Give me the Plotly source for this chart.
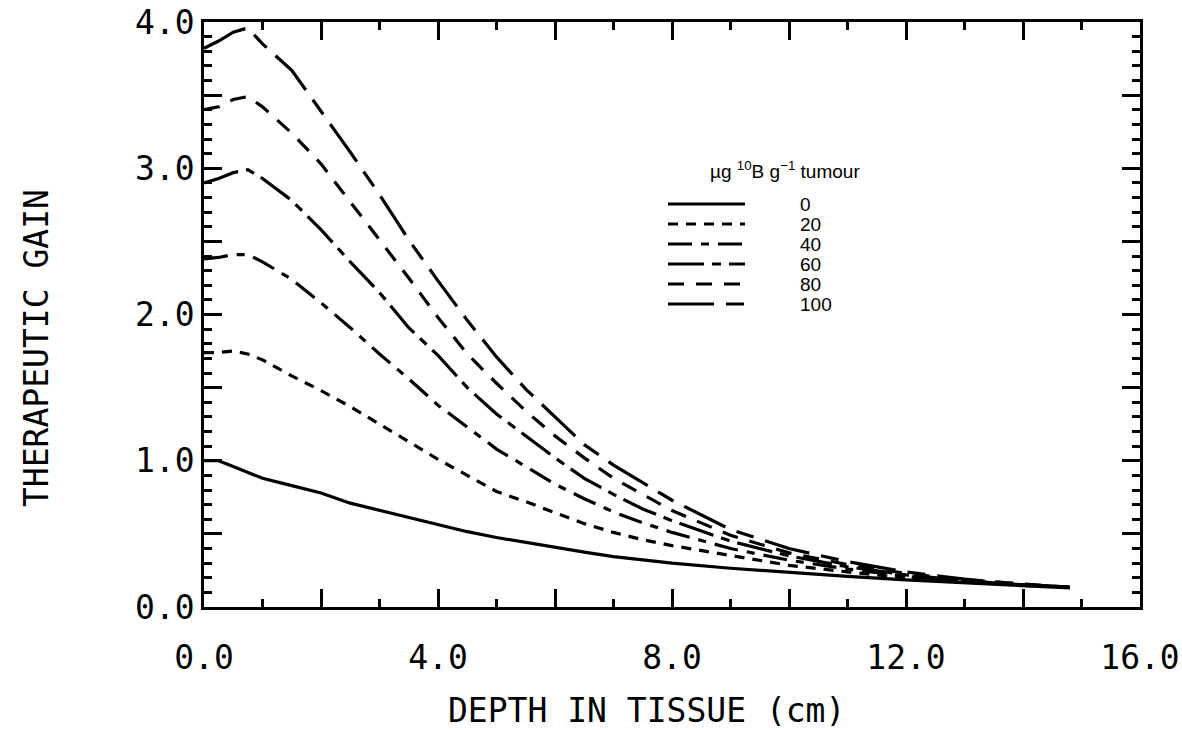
import plotly.graph_objects as go

# ---------------- data ----------------
depth_cm = [0, 0.25, 0.5, 0.75, 1, 1.5, 2, 2.5, 3, 3.5, 4, 4.5, 5, 5.5, 6, 6.5,
            7, 7.5, 8, 9, 10, 11, 12, 13, 14, 14.8]

boron_levels = ["0", "20", "40", "60", "80", "100"]

gain_0 = [1.00, 1.00, 0.96, 0.92, 0.88, 0.83, 0.78, 0.71, 0.66, 0.61, 0.56, 0.515,
          0.475, 0.44, 0.41, 0.375, 0.345, 0.32, 0.30, 0.265, 0.235, 0.21, 0.185,
          0.165, 0.145, 0.13]
gain_20 = [1.74, 1.74, 1.75, 1.73, 1.69, 1.58, 1.48, 1.37, 1.25, 1.13, 1.01, 0.90,
           0.79, 0.72, 0.645, 0.57, 0.51, 0.46, 0.42, 0.35, 0.285, 0.24, 0.20,
           0.17, 0.148, 0.133]
gain_40 = [2.38, 2.39, 2.41, 2.41, 2.36, 2.24, 2.08, 1.91, 1.73, 1.56, 1.38, 1.23,
           1.08, 0.96, 0.84, 0.74, 0.65, 0.575, 0.51, 0.40, 0.32, 0.26, 0.21,
           0.175, 0.15, 0.135]
gain_60 = [2.90, 2.93, 2.97, 2.99, 2.93, 2.78, 2.58, 2.36, 2.15, 1.91, 1.72, 1.50,
           1.32, 1.17, 1.02, 0.88, 0.77, 0.67, 0.59, 0.45, 0.35, 0.275, 0.22,
           0.18, 0.15, 0.135]
gain_80 = [3.40, 3.42, 3.47, 3.49, 3.42, 3.24, 3.03, 2.77, 2.51, 2.25, 1.98, 1.73,
           1.53, 1.34, 1.17, 1.02, 0.88, 0.77, 0.66, 0.49, 0.37, 0.29, 0.23,
           0.185, 0.155, 0.135]
gain_100 = [3.82, 3.87, 3.93, 3.96, 3.85, 3.67, 3.39, 3.11, 2.82, 2.51, 2.23, 1.96,
            1.71, 1.49, 1.30, 1.11, 0.97, 0.85, 0.73, 0.53, 0.40, 0.31, 0.24,
            0.19, 0.155, 0.135]

x_title = "DEPTH IN TISSUE (cm)"
y_title = "THERAPEUTIC GAIN"
legend_title = "\u00b5g <sup>10</sup>B g<sup>\u22121</sup> tumour"

# ---------------- styles ----------------
series = [gain_0, gain_20, gain_40, gain_60, gain_80, gain_100]
dashes = ["solid", "10px,8px", "24px,9px,8px,9px", "36px,8px,9px,8px",
          "16px,12px", "46px,12px,18px,12px"]

W, H = 1182, 730
L, R, T, B = 204, 42, 22, 123
TICK_FONT = dict(family="DejaVu Sans Mono, Liberation Mono, monospace", size=33, color="black")
LEG_FONT = dict(family="Liberation Sans, Arial, sans-serif", size=19, color="black")

fig = go.Figure()
for name, ys, dash in zip(boron_levels, series, dashes):
    fig.add_trace(go.Scatter(
        x=depth_cm, y=ys, mode="lines", name=name, showlegend=False,
        line=dict(color="black", width=3.2, dash=dash)))

# empty trace so the secondary (tick-only) axes get drawn
fig.add_trace(go.Scatter(x=[], y=[], xaxis="x2", yaxis="y2", showlegend=False,
                         hoverinfo="skip"))

pw, ph = W - L - R, H - T - B
def px2paper_x(px):
    return (px - L) / pw
def px2paper_y(py):
    return (H - B - py) / ph

# legend drawn as layout elements (paper coordinates)
fig.add_annotation(xref="paper", yref="paper", x=px2paper_x(708), y=px2paper_y(170),
                   xanchor="left", yanchor="middle", showarrow=False,
                   text=legend_title, font=LEG_FONT)
legend_rows = [204, 224, 244, 264, 284, 304]
for name, dash, ry in zip(boron_levels, dashes, legend_rows):
    fig.add_shape(type="line", xref="paper", yref="paper",
                  x0=px2paper_x(668), x1=px2paper_x(745),
                  y0=px2paper_y(ry), y1=px2paper_y(ry),
                  line=dict(color="black", width=3, dash=dash))
    fig.add_annotation(xref="paper", yref="paper", x=px2paper_x(798), y=px2paper_y(ry),
                       xanchor="left", yanchor="middle", showarrow=False,
                       text=name, font=LEG_FONT)

# axis titles as annotations so they sit where the reference puts them
fig.add_annotation(xref="paper", yref="paper", x=px2paper_x(646), y=px2paper_y(710),
                   xanchor="center", yanchor="middle", showarrow=False,
                   text=x_title, font=TICK_FONT)
fig.add_annotation(xref="paper", yref="paper", x=px2paper_x(36), y=px2paper_y(348),
                   xanchor="center", yanchor="middle", showarrow=False, textangle=-90,
                   text=y_title, font=TICK_FONT)

axis_common = dict(showline=True, linecolor="black", linewidth=2.5, mirror="allticks",
                   ticks="inside", tickcolor="black", tickwidth=2.5, ticklen=18,
                   showgrid=False, zeroline=False, tickfont=TICK_FONT,
                   tickmode="linear", tick0=0, tickformat=".1f")

fig.update_layout(
    xaxis=dict(range=[0, 16], dtick=4,
               minor=dict(ticks="inside", dtick=1, ticklen=8, tickwidth=2.5,
                          tickcolor="black", showgrid=False),
               ticklabelstandoff=20, **axis_common),
    yaxis=dict(range=[0, 4], dtick=1,
               minor=dict(ticks="inside", dtick=0.1, ticklen=8, tickwidth=2.5,
                          tickcolor="black", showgrid=False),
               **axis_common),
    xaxis2=dict(overlaying="x", range=[0, 16], tickmode="linear", tick0=0, dtick=2,
                ticks="inside", ticklen=18, tickwidth=2.5, tickcolor="black",
                showticklabels=False, showline=True, linecolor="black", linewidth=2.5,
                mirror="allticks", showgrid=False, zeroline=False),
    yaxis2=dict(overlaying="y", range=[0, 4], tickmode="linear", tick0=0, dtick=0.5,
                ticks="inside", ticklen=18, tickwidth=2.5, tickcolor="black",
                showticklabels=False, showline=True, linecolor="black", linewidth=2.5,
                mirror="allticks", showgrid=False, zeroline=False),
)

fig.update_layout(width=W, height=H, margin=dict(l=L, r=R, t=T, b=B, autoexpand=False),
                  plot_bgcolor="white", paper_bgcolor="white", showlegend=False)

fig.write_html("out.html")
